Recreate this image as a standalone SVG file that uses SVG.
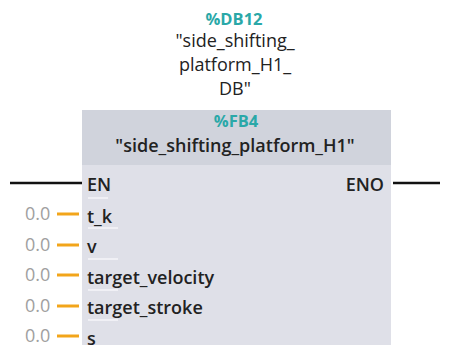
<svg xmlns="http://www.w3.org/2000/svg" width="453" height="345" viewBox="0 0 453 345">
<style>
.t{font-family:"Open Sans","Noto Sans",sans-serif;fill:#222;font-size:18px;}
.teal{font-family:"Open Sans","Noto Sans",sans-serif;fill:#2aa8a8;font-weight:bold;font-size:16.5px;}
.pin{font-family:"Open Sans","Noto Sans",sans-serif;font-size:18px;fill:#222;font-weight:600;}
.val{font-family:"Open Sans","Noto Sans",sans-serif;font-size:18px;fill:#a0a0a0;}
.ow{stroke:#f2a51a;stroke-width:3;}
.bw{stroke:#111;stroke-width:2.5;}
.sep{stroke:#f6f6fa;stroke-width:1.5;}
</style>
<rect width="453" height="345" fill="#fff"/>
<g id="db">
<text class="teal" x="234" y="25" text-anchor="middle">%DB12</text>
<text class="t" x="235" y="47" text-anchor="middle">"side_shifting_</text>
<text class="t" x="235" y="71" text-anchor="middle">platform_H1_</text>
<text class="t" x="235" y="95" text-anchor="middle">DB"</text>
</g>
<g id="fb">
<rect x="82" y="110" width="309" height="235" fill="#dfe0e8"/>
<rect x="82" y="110" width="309" height="55" fill="#d0d3dc"/>
<text class="teal" x="236" y="127" text-anchor="middle" font-size="17">%FB4</text>
<text class="t" x="235" y="152" text-anchor="middle" font-weight="600">"side_shifting_platform_H1"</text>
<text class="pin" x="87" y="191">EN</text>
<text class="pin" x="384" y="191" text-anchor="end">ENO</text>
<text class="pin" x="87" y="223">t_k</text>
<text class="pin" x="87" y="253">v</text>
<text class="pin" x="87" y="284">target_velocity</text>
<text class="pin" x="87" y="314">target_stroke</text>
<text class="pin" x="87" y="345">s</text>
<line class="sep" x1="88" y1="198" x2="108" y2="198"/>
<line class="sep" x1="88" y1="228" x2="118" y2="228"/>
<line class="sep" x1="88" y1="259" x2="118" y2="259"/>
<line class="sep" x1="88" y1="290" x2="118" y2="290"/>
<line class="sep" x1="88" y1="320" x2="118" y2="320"/>
</g>
<g id="connectors">
<line class="bw" x1="10" y1="183" x2="82" y2="183"/>
<line class="bw" x1="393" y1="183" x2="440" y2="183"/>
<line class="ow" x1="57" y1="214" x2="79" y2="214"/>
<line class="ow" x1="57" y1="245" x2="79" y2="245"/>
<line class="ow" x1="57" y1="275" x2="79" y2="275"/>
<line class="ow" x1="57" y1="306" x2="79" y2="306"/>
<line class="ow" x1="57" y1="336" x2="79" y2="336"/>
<text class="val" x="25" y="220">0.0</text>
<text class="val" x="25" y="251">0.0</text>
<text class="val" x="25" y="281">0.0</text>
<text class="val" x="25" y="312">0.0</text>
<text class="val" x="25" y="342">0.0</text>
</g>
</svg>
